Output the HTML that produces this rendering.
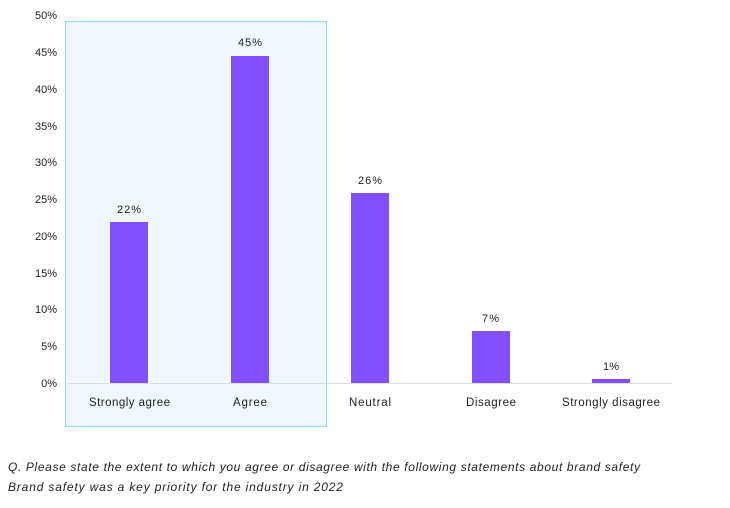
<!DOCTYPE html><html><head><style>body{margin:0;background:#fff;width:730px;height:503px;overflow:hidden}svg text{font-family:"Liberation Sans",sans-serif}</style></head><body>
<svg width="730" height="503" viewBox="0 0 730 503">
<rect x="65.5" y="21.5" width="261" height="405" fill="#f0f8fd" stroke="#8fdcf5" stroke-width="1"/>
<g font-size="11" fill="#222" text-anchor="end">
<text x="57" y="19">50%</text><text x="57" y="56">45%</text><text x="57" y="93">40%</text><text x="57" y="130">35%</text><text x="57" y="166">30%</text><text x="57" y="203">25%</text><text x="57" y="240">20%</text><text x="57" y="277">15%</text><text x="57" y="313">10%</text><text x="57" y="350">5%</text><text x="57" y="387">0%</text>
</g>
<line x1="69" y1="383.5" x2="672" y2="383.5" stroke="#d6dde3" stroke-width="1"/>
<g fill="#8350ff">
<rect x="110" y="222" width="38" height="161"/>
<rect x="231" y="56" width="38" height="327"/>
<rect x="351" y="193" width="38" height="190"/>
<rect x="472" y="331" width="38" height="52"/>
<rect x="592" y="379" width="38" height="4"/>
</g>
<g font-size="11" fill="#222">
<text x="117" y="213" textLength="24">22%</text><text x="238" y="46" textLength="24">45%</text><text x="358" y="184" textLength="24">26%</text><text x="482" y="322" textLength="17">7%</text><text x="603" y="370" textLength="16">1%</text>
<g font-size="11.5">
<text x="89" y="406" textLength="81">Strongly agree</text><text x="233" y="406" textLength="34">Agree</text><text x="349" y="406" textLength="42">Neutral</text><text x="466" y="406" textLength="50">Disagree</text><text x="562" y="406" textLength="98">Strongly disagree</text>
</g></g>
<g font-size="12" fill="#222" font-style="italic">
<text x="8" y="471" textLength="632">Q. Please state the extent to which you agree or disagree with the following statements about brand safety</text>
<text x="8" y="491" textLength="335">Brand safety was a key priority for the industry in 2022</text>
</g>
</svg></body></html>
